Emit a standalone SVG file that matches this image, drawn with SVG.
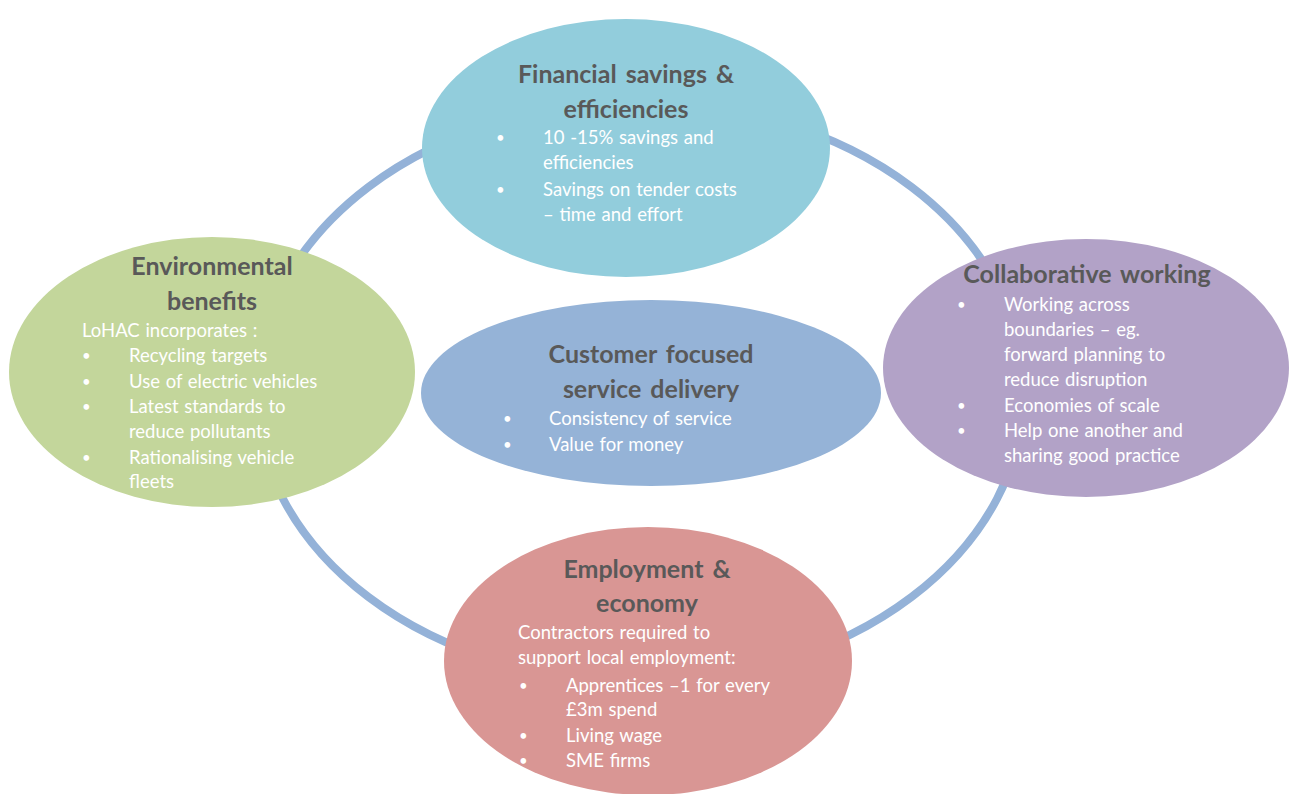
<svg xmlns="http://www.w3.org/2000/svg" width="1295" height="794" viewBox="0 0 1295 794">
<style>
.t{font-family:Lato,"Liberation Sans",sans-serif;font-weight:bold;font-size:25px;fill:#595959;text-anchor:middle;word-spacing:3px}
.b{font-family:Lato,"Liberation Sans",sans-serif;font-size:18.5px;fill:#ffffff;word-spacing:1px}
.d{font-family:Lato,"Liberation Sans",sans-serif;font-size:15px;fill:#ffffff}
</style>
<rect width="1295" height="794" fill="#ffffff"/>
<g id="connectors">
<ellipse cx="640" cy="392" rx="384" ry="290" fill="none" stroke="#94B2D8" stroke-width="8"/>
</g>
<g id="financial">
<ellipse cx="626" cy="148" rx="204" ry="129" fill="#92CDDC"/>
<text class="t" x="626" y="83">Financial savings &amp;</text>
<text class="t" x="626" y="118">efficiencies</text>
<text class="d" x="496" y="143">•</text><text class="b" x="543" y="144">10 -15% savings and</text>
<text class="b" x="543" y="169">efficiencies</text>
<text class="d" x="496" y="195">•</text><text class="b" x="543" y="196">Savings on tender costs</text>
<text class="b" x="543" y="221">– time and effort</text>
</g>
<g id="environmental">
<ellipse cx="212" cy="372" rx="203" ry="135" fill="#C3D69B"/>
<text class="t" x="212" y="275">Environmental</text>
<text class="t" x="212" y="310">benefits</text>
<text class="b" x="82" y="337">LoHAC incorporates :</text>
<text class="d" x="82" y="361">•</text><text class="b" x="129" y="362">Recycling targets</text>
<text class="d" x="82" y="387">•</text><text class="b" x="129" y="388">Use of electric vehicles</text>
<text class="d" x="82" y="412">•</text><text class="b" x="129" y="413">Latest standards to</text>
<text class="b" x="129" y="438">reduce pollutants</text>
<text class="d" x="82" y="463">•</text><text class="b" x="129" y="464">Rationalising vehicle</text>
<text class="b" x="129" y="488">fleets</text>
</g>
<g id="collaborative">
<ellipse cx="1086" cy="368" rx="203" ry="129" fill="#B2A2C7"/>
<text class="t" x="1087" y="283">Collaborative working</text>
<text class="d" x="957" y="310">•</text><text class="b" x="1004" y="311">Working across</text>
<text class="b" x="1004" y="336">boundaries – eg.</text>
<text class="b" x="1004" y="361">forward planning to</text>
<text class="b" x="1004" y="386">reduce disruption</text>
<text class="d" x="957" y="411">•</text><text class="b" x="1004" y="412">Economies of scale</text>
<text class="d" x="957" y="436">•</text><text class="b" x="1004" y="437">Help one another and</text>
<text class="b" x="1004" y="462">sharing good practice</text>
</g>
<g id="customer">
<ellipse cx="651" cy="393" rx="230" ry="93" fill="#95B3D7"/>
<text class="t" x="651" y="363">Customer focused</text>
<text class="t" x="651" y="398">service delivery</text>
<text class="d" x="503" y="424">•</text><text class="b" x="549" y="425">Consistency of service</text>
<text class="d" x="503" y="450">•</text><text class="b" x="549" y="451">Value for money</text>
</g>
<g id="employment">
<ellipse cx="648" cy="661" rx="204" ry="134" fill="#D99694"/>
<text class="t" x="647" y="578">Employment &amp;</text>
<text class="t" x="647" y="612">economy</text>
<text class="b" x="518" y="639">Contractors required to</text>
<text class="b" x="518" y="664">support local employment:</text>
<text class="d" x="519" y="691">•</text><text class="b" x="566" y="692">Apprentices –1 for every</text>
<text class="b" x="566" y="716">£3m spend</text>
<text class="d" x="519" y="741">•</text><text class="b" x="566" y="742">Living wage</text>
<text class="d" x="519" y="766">•</text><text class="b" x="566" y="767">SME firms</text>
</g>
</svg>
